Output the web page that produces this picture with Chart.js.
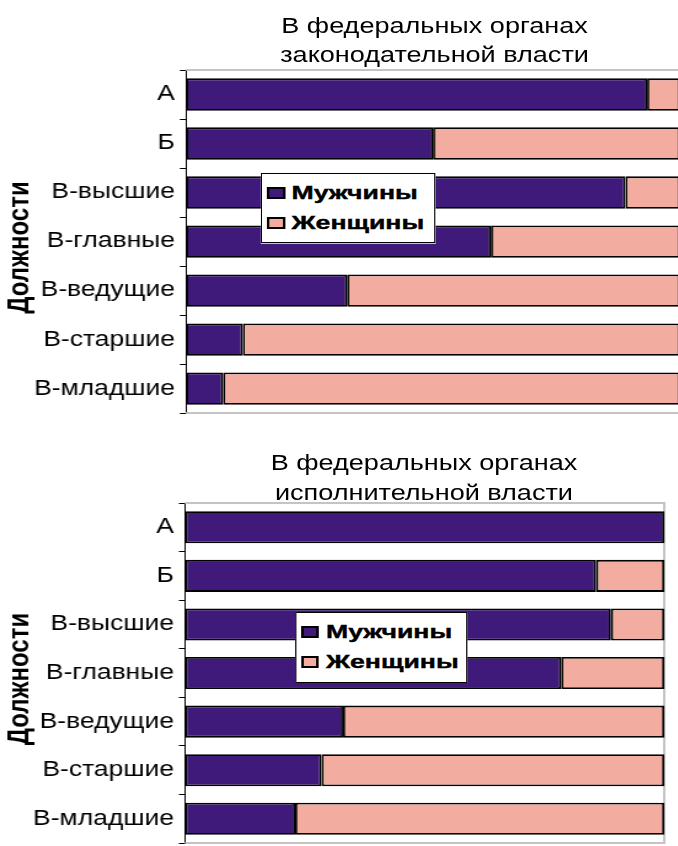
<!DOCTYPE html>
<html><head><meta charset="utf-8">
<script src="https://cdn.jsdelivr.net/npm/chart.js@4"></script>
<style>
html,body{margin:0;padding:0;background:#fff;overflow:hidden;width:678px;height:846px;}
#outer{position:relative;width:678px;height:846px;overflow:hidden;}
#wrap{position:absolute;left:0;top:0;width:562px;height:846px;transform:scaleX(1.23);transform-origin:0 0;}
canvas{position:absolute;left:0;}
.title{position:absolute;font-family:"Liberation Sans",Arial,sans-serif;font-size:22px;text-align:center;color:#000;white-space:nowrap;transform:translateX(-50%);}
.legend{position:absolute;background:#fff;border:1px solid #000;box-sizing:border-box;font-family:"Liberation Sans",Arial,sans-serif;font-weight:bold;font-size:19px;z-index:2;padding-top:4px;}
.legend .row{display:flex;align-items:center;height:30px;}
.legend .sw{width:10.4px;height:8.7px;border:2px solid #000;margin:0 5.9px 0 4px;flex:none;}
.legend .tx{display:inline-block;transform:scaleX(1.14);transform-origin:0 50%;white-space:nowrap;-webkit-text-stroke:0.4px #000;}
</style></head>
<body><div id="outer"><div id="wrap">
<canvas id="c1" width="562" height="430" style="top:0"></canvas>
<canvas id="c2" width="552" height="430" style="top:430px"></canvas>
<div class="title" id="t1" style="left:353.3px;top:11px;line-height:29px"></div>
<div class="title" id="t2" style="left:344.7px;top:448px;line-height:30px"></div>
<div class="legend" id="l1" style="left:212.2px;top:173px;width:141.5px;height:70px"></div>
<div class="legend" id="l2" style="left:239.8px;top:612px;width:139.8px;height:71px"></div>
</div></div>
<script>
const categories = ['А','Б','В-высшие','В-главные','В-ведущие','В-старшие','В-младшие'];
const seriesNames = ['Мужчины','Женщины'];
const seriesColors = ['#3f1a7a','#f2aca0'];
const legMen = [93.3,50,88.9,61.7,32.6,11.5,7.5];
const legWomen = [6.7,50,11.1,38.3,67.4,88.5,92.5];
const exeMen = [100,85.8,88.9,78.5,33,28.5,23];
const exeWomen = [0,14.2,11.1,21.5,67,71.5,77];
const axisTitle = 'Должности';
const titleLeg = ['В федеральных органах','законодательной власти'];
const titleExe = ['В федеральных органах','исполнительной власти'];

document.getElementById('t1').innerHTML = titleLeg.join('<br>');
document.getElementById('t2').innerHTML = titleExe.join('<br>');
function buildLegend(id){
  const el = document.getElementById(id);
  seriesNames.forEach((n,i)=>{
    const r = document.createElement('div'); r.className='row';
    const s = document.createElement('div'); s.className='sw'; s.style.background=seriesColors[i];
    const t = document.createElement('span'); t.className='tx'; t.textContent=n;
    r.appendChild(s); r.appendChild(t); el.appendChild(r);
  });
}
buildLegend('l1'); buildLegend('l2');

const frame = {id:'frame', beforeDatasetsDraw(c){
  const a=c.chartArea, x=c.ctx; x.save(); x.strokeStyle='#c4c4c4'; x.lineWidth=2;
  x.beginPath(); x.moveTo(a.left,a.top); x.lineTo(a.right,a.top); x.lineTo(a.right,a.bottom); x.lineTo(a.left,a.bottom); x.stroke(); x.restore();
}};

function makeChart(id, men, women, axisW, pad){
  const vals=[men,women];
  return new Chart(document.getElementById(id), {
    type:'bar',
    data:{labels:categories, datasets:seriesNames.map((n,i)=>({label:n,data:vals[i],backgroundColor:seriesColors[i],borderColor:'#000',borderWidth:1.8,borderSkipped:false,barPercentage:0.66,categoryPercentage:1}))},
    options:{indexAxis:'y',responsive:false,animation:false,devicePixelRatio:1,
      layout:{padding:pad},
      plugins:{legend:{display:false},tooltip:{enabled:false},title:{display:false}},
      scales:{
        x:{stacked:true,min:0,max:100,display:false},
        y:{stacked:true,
          afterFit(s){s.width=axisW;},
          border:{display:true,color:'#000',width:1},
          grid:{display:true,drawOnChartArea:false,drawTicks:true,tickLength:5,color:'#000',tickColor:'#000'},
          ticks:{color:'#000',padding:4,font:{family:'Liberation Sans',size:21.5}},
          title:{display:true,text:axisTitle+'\u2002',color:'#000',font:{family:'Liberation Sans',size:24,weight:'bold'},padding:{top:1.5,bottom:0}}
        }
      }
    },
    plugins:[frame]
  });
}
makeChart('c1', legMen, legWomen, 151.2, {top:70,right:9,bottom:10,left:0});
makeChart('c2', exeMen, exeWomen, 150.4, {top:73,right:12,bottom:7,left:0});
</script>
</body></html>
